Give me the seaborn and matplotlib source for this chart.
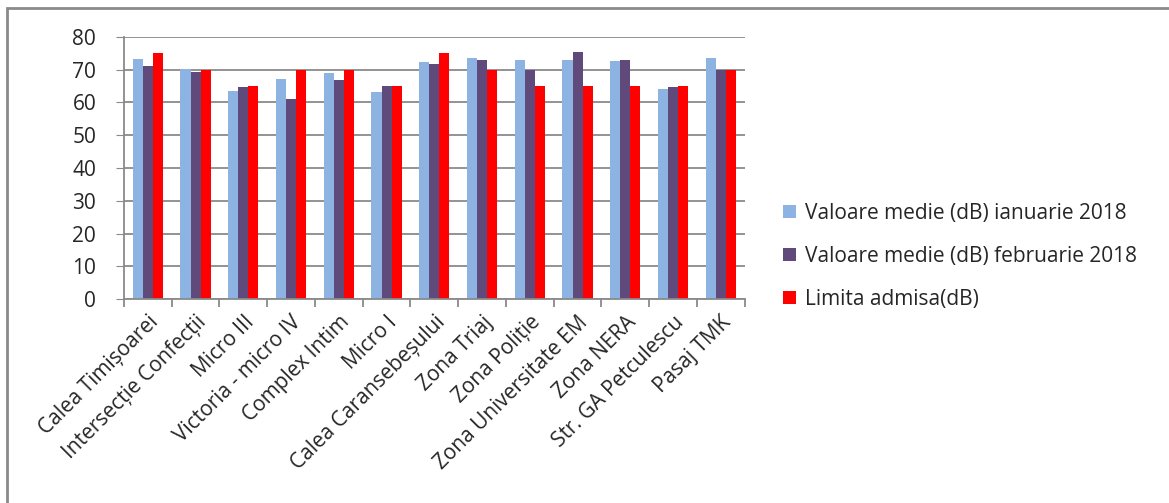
import numpy as np
import pandas as pd
import seaborn as sns
import matplotlib.pyplot as plt
from matplotlib.patches import Rectangle

locatii = ["Calea Timișoarei", "Intersecție Confecții", "Micro III", "Victoria - micro IV",
           "Complex Intim", "Micro I", "Calea Caransebeșului", "Zona Triaj", "Zona Poliție",
           "Zona Universitate EM", "Zona NERA", "Str. GA Petculescu", "Pasaj TMK"]
ianuarie = [73.1, 70.1, 63.6, 67.2, 68.8, 63.3, 72.3, 73.6, 72.9, 72.9, 72.5, 64.0, 73.4]
februarie = [71.1, 69.2, 64.7, 60.9, 66.8, 65.0, 71.6, 72.9, 69.8, 75.3, 72.9, 64.8, 70.0]
limita = [75, 70, 65, 70, 70, 65, 75, 70, 65, 65, 65, 65, 70]
serii = ["Valoare medie (dB) ianuarie 2018", "Valoare medie (dB) februarie 2018", "Limita admisa(dB)"]
culori = ["#8DB3E2", "#604A7B", "#FF0000"]

df = pd.DataFrame({"loc": locatii * 3,
                   "val": ianuarie + februarie + limita,
                   "serie": [serii[0]] * 13 + [serii[1]] * 13 + [serii[2]] * 13})

sns.set_style("white")
plt.rcParams['font.family'] = ['Open Sans', 'DejaVu Sans']

fig = plt.figure(figsize=(11.69, 5.03), dpi=100)
ax = fig.add_axes([0.106, 0.405, 0.531, 0.522])

sns.barplot(data=df, x="loc", y="val", hue="serie", palette=culori, width=0.63,
            saturation=1, linewidth=0, ax=ax, legend=True)

ax.set_ylim(0, 80)
ax.set_xlim(-0.5, len(locatii) - 0.5)
ax.set_yticks(range(0, 81, 10))
ax.yaxis.grid(True, color="#8a8a8a", linewidth=1.3)
ax.set_axisbelow(True)
ax.set_xlabel("")
ax.set_ylabel("")
for s in ["top", "right"]:
    ax.spines[s].set_visible(False)
for s in ["left", "bottom"]:
    ax.spines[s].set_color("#8a8a8a")
    ax.spines[s].set_linewidth(1.3)

ax.tick_params(axis="y", which="major", left=True, length=6, color="#8a8a8a",
               labelsize=15, pad=14)
ax.set_xticks(np.arange(len(locatii)))
ax.set_xticklabels(locatii, rotation=45, ha="right", rotation_mode="anchor", fontsize=15)
ax.tick_params(axis="x", which="major", length=0, pad=9)
ax.set_xticks(np.arange(-0.5, len(locatii)), minor=True)
ax.tick_params(axis="x", which="minor", bottom=True, length=6, color="#8a8a8a", width=1.3)

handles, labels = ax.get_legend_handles_labels()
ax.get_legend().remove()
fig.legend(handles, labels, loc="center left", bbox_to_anchor=(0.654, 0.49),
           frameon=False, fontsize=15, handlelength=0.6, handleheight=0.6,
           handletextpad=0.45, labelspacing=1.05)

fig.patches.append(Rectangle((7 / 1169, -0.05), 1.2, 1 - 8 / 503 + 0.05,
                             transform=fig.transFigure, fill=False,
                             edgecolor="#8a8a8a", linewidth=2))

fig.savefig("out.png", dpi=100)
